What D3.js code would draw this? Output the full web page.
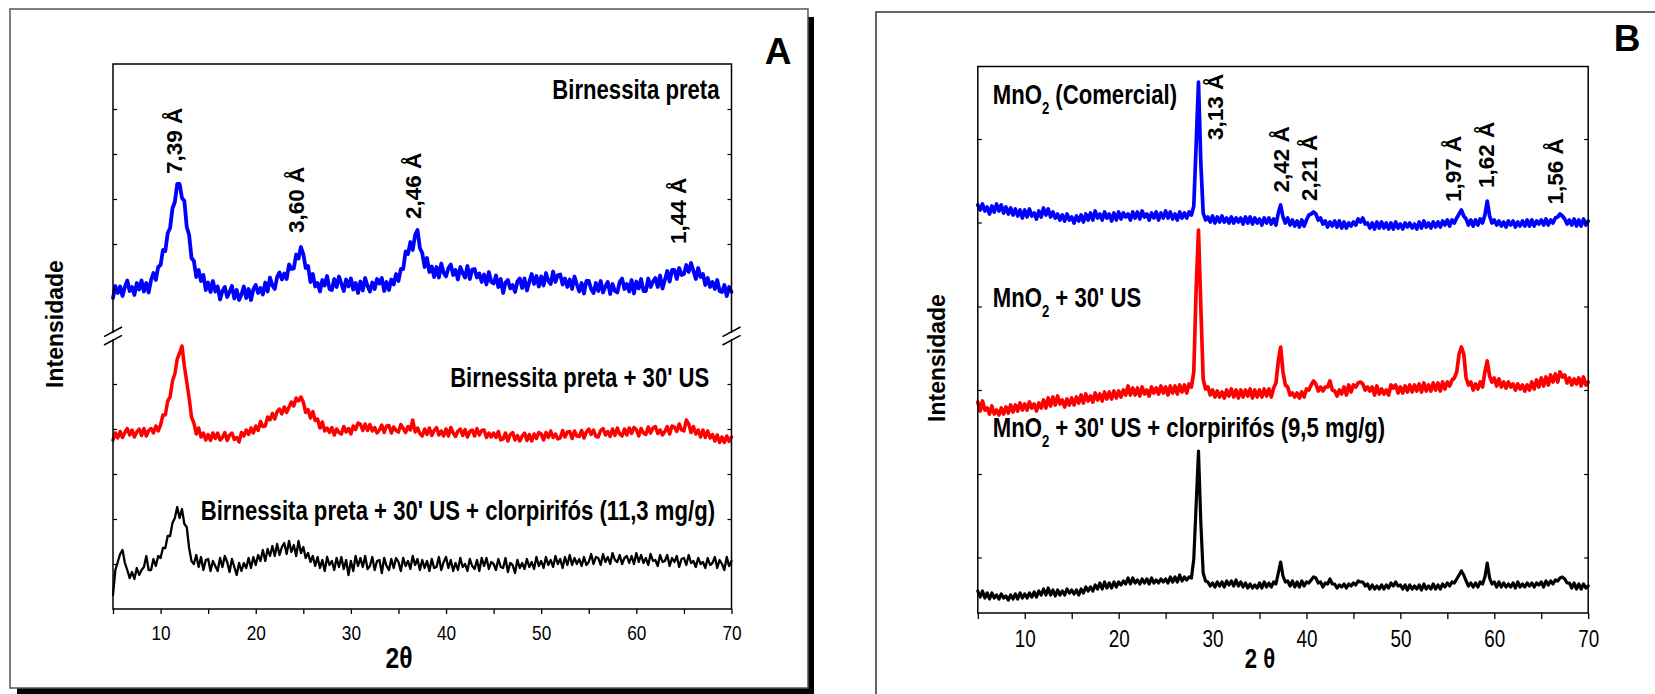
<!DOCTYPE html>
<html>
<head>
<meta charset="utf-8">
<script src="https://cdn.jsdelivr.net/npm/d3@7"></script>
<style>
  html, body { margin: 0; padding: 0; background: #fff; }
  svg { display: block; }
  text { font-family: "Liberation Sans", Arial, sans-serif; fill: #000; }
</style>
</head>
<body>
<svg id="fig" width="1655" height="694"></svg>
<script>
// ---- 2θ sampling grid (degrees) ----
const twoThetaStart = 5, twoThetaStep = 0.25, twoThetaCount = 261;
const twoTheta = d3.range(twoThetaCount).map(i => twoThetaStart + i * twoThetaStep);

const xTicks = [5, 10, 15, 20, 25, 30, 35, 40, 45, 50, 55, 60, 65, 70];
const xTickLabels = ["", "10", "", "20", "", "30", "", "40", "", "50", "", "60", "", "70"];

// ---- Panel A: birnessita patterns (intensity, a.u., offset stacked) ----
const birnessitaPreta = [
  622,646,632,645, 626,644,657,636, 644,628,652,639, 657,635,652,633, 658,672,658,684,
  688,718,716,752, 762,801,814,850, 850,822,816,764, 748,702,696,664, 678,656,668,638,
  653,634,656,635, 645,619,636,644, 624,634,646,621, 638,618,629,645, 622,640,618,639,
  648,632,642,629, 653,635,663,647, 640,664,673,659, 671,660,689,680, 681,709,701,724,
  710,682,686,654, 670,645,652,635, 658,647,666,640, 638,660,644,665, 651,636,659,645,
  661,639,652,632, 655,637,662,646, 635,653,640,660, 651,662,636,654, 638,659,649,670,
  656,680,680,715, 710,734,718,748, 758,722,712,684, 702,674,685,664, 684,663,691,672,
  665,682,689,668, 678,659,684,672, 663,686,660,679, 680,663,671,654, 669,649,674,654,
  651,667,644,660, 632,653,658,641, 648,634,655,661, 642,661,637,654, 670,650,666,645,
  665,647,672,656, 650,675,654,668, 669,649,661,644, 659,640,665,649, 635,652,631,656,
  656,640,632,652, 636,656,633,645, 654,630,650,636, 633,654,661,640, 650,635,658,631,
  655,641,660,636, 636,661,644,655, 662,644,667,641, 658,676,655,678, 678,660,682,668,
  670,688,674,692, 676,660,682,664, 670,648,662,644, 654,640,658,636, 634,648,626,644,
  634
];
const birnessitaUS = [
  338,352,342,355, 343,353,361,348, 358,344,354,360, 347,361,346,357, 361,352,366,356,
  368,388,388,416, 424,456,470,500, 512,526,486,454, 422,384,372,350, 362,344,352,338,
  349,337,352,341, 352,338,343,353, 337,348,352,339, 343,334,353,346, 358,349,362,352,
  366,357,375,365, 366,384,378,391, 380,395,400,390, 404,393,404,414, 406,422,416,424,
  414,393,399,382, 395,377,380,362, 374,356,362,353, 363,348,360,353, 350,365,354,361,
  350,366,359,372, 370,357,370,357, 369,356,363,352, 358,368,353,366, 367,352,364,357,
  354,369,361,353, 365,358,378,354, 362,351,346,360, 349,362,347,357, 363,348,356,346,
  360,346,363,352, 345,356,360,347, 359,344,355,358, 346,361,348,357, 358,343,352,344,
  352,343,355,338, 340,352,336,349, 353,338,347,336, 346,352,337,349, 336,350,341,353,
  350,338,353,343, 356,343,350,340, 342,357,344,354, 355,341,356,346, 345,357,342,354,
  360,349,358,345, 344,357,361,348, 355,345,360,347, 362,350,346,360, 348,362,351,363,
  359,346,361,352, 349,364,352,362, 365,351,358,348, 355,365,350,366, 364,355,370,358,
  356,378,370,353, 365,350,358,344, 358,343,356,342, 349,336,348,333, 344,333,346,335,
  344
];
const birnessitaUSClorpirifos = [
  28,78,94,110, 118,92,78,62, 74,60,82,68, 78,84,106,78, 78,100,86,106,
  102,122,122,146, 146,172,182,204, 182,200,170,164, 122,96,90,108, 84,104,78,98,
  100,76,96,86, 76,102,84,106, 94,74,100,84, 68,92,76,92, 82,102,82,104,
  88,108,96,118, 96,120,106,126, 106,130,108,124, 132,110,136,114, 128,106,136,112,
  124,102,112,94, 106,86,104,82, 98,76,104,88, 96,78,102,84, 104,80,98,68,
  96,76,106,86, 102,84,106,80, 86,104,78,96, 98,72,102,86, 78,100,82,102,
  94,76,102,86, 96,80,106,88, 100,78,98,82, 96,76,100,82, 84,104,78,94,
  104,82,98,76, 92,78,102,84, 90,76,100,86, 80,98,76,102, 86,102,80,94,
  90,78,100,84, 82,102,74,92, 88,72,98,82, 92,80,100,84, 94,80,104,86,
  96,82,104,88, 98,84,106,90, 100,82,104,88, 108,88,102,90, 100,86,104,88,
  94,110,90,104, 102,88,110,94, 104,90,112,98, 94,108,90,102, 106,92,106,90,
  112,94,108,92, 102,88,110,96, 98,86,108,94, 96,108,86,102, 94,106,84,100,
  102,88,108,92, 96,84,102,90, 94,82,102,88, 92,104,82,98, 90,78,104,86,
  96
];

// ---- Panel B: MnO2 patterns (intensity, a.u., offset stacked) ----
const mno2Comercial = [
  816,806,818,804, 812,798,814,802, 818,804,816,800, 812,798,810,796, 808,794,806,790,
  806,792,808,794, 800,788,804,792, 810,796,808,792, 802,790,798,786, 796,784,798,786,
  792,780,794,784, 796,782,798,786, 800,786,804,790, 798,786,802,790, 798,784,800,786,
  802,788,800,792, 798,786,802,790, 802,788,804,792, 798,786,800,790, 802,786,800,790,
  804,790,802,788, 798,786,802,790, 800,790,802,796, 814,936,1062,900, 800,786,792,782,
  794,780,792,782, 794,782,790,780, 792,780,790,782, 790,778,792,780, 792,778,790,780,
  788,776,790,780, 790,778,788,776, 800,816,792,780, 790,776,786,774, 784,772,786,774,
  786,796,798,802, 798,786,790,778, 784,772,782,774, 784,772,784,770, 782,770,780,774,
  782,776,788,782, 790,778,780,770, 780,768,782,770, 782,770,780,768, 780,768,782,770,
  778,768,780,772, 780,770,778,768, 782,770,784,772, 780,770,782,772, 782,772,784,776,
  786,774,786,780, 790,798,806,794, 788,776,786,774, 786,776,788,780, 796,824,794,780,
  786,776,784,774, 782,772,784,776, 784,772,782,774, 784,774,786,774, 786,774,784,778,
  786,776,788,776, 786,780,790,792, 798,794,788,778, 786,776,788,774, 786,774,788,776,
  784
];
const mno2US = [
  422,404,424,406, 410,398,414,398, 406,396,410,398, 412,400,416,402, 416,404,420,406,
  418,406,422,410, 418,404,420,410, 426,410,430,414, 432,416,434,418, 426,412,428,416,
  430,416,432,420, 436,420,438,424, 434,422,440,426, 438,424,442,428, 442,428,444,430,
  444,432,446,436, 454,436,450,436, 450,434,452,438, 446,434,452,440, 450,438,454,440,
  452,436,454,440, 454,438,456,442, 456,440,458,452, 482,648,766,612, 468,448,452,436,
  446,432,444,432, 442,430,446,434, 448,432,446,430, 446,432,446,434, 448,430,446,432,
  446,432,448,434, 448,432,450,460, 504,532,482,456, 452,436,440,432, 440,430,442,432,
  448,446,456,464, 458,444,452,444, 452,452,464,446, 444,434,446,438, 452,436,456,442,
  456,452,460,462, 458,446,452,444, 452,436,454,438, 448,438,446,436, 456,450,456,440,
  452,440,454,442, 456,442,456,444, 458,442,460,444, 456,444,460,446, 460,444,462,448,
  462,454,466,470, 482,518,532,518, 470,456,462,446, 458,448,462,452, 482,504,474,462,
  470,454,468,452, 462,450,462,452, 458,446,458,448, 456,444,456,446, 462,448,466,452,
  470,454,472,456, 476,462,478,462, 482,472,476,460, 470,456,468,458, 470,454,472,456,
  462
];
const mno2USClorpirifos = [
  44,32,44,30, 40,28,40,30, 36,28,38,30, 34,26,36,28, 38,28,40,30,
  38,30,40,32, 42,32,44,36, 48,36,50,36, 46,34,46,36, 44,36,48,40,
  46,38,46,36, 48,40,52,44, 52,44,56,48, 60,48,62,50, 60,50,62,52,
  62,56,64,58, 70,58,70,60, 66,58,68,60, 68,58,70,60, 66,60,68,62,
  68,60,72,62, 72,62,76,64, 72,66,72,70, 108,216,324,180, 80,64,62,54,
  60,52,62,54, 62,52,64,56, 64,54,66,54, 62,52,60,50, 58,50,56,50,
  60,50,62,52, 60,52,62,58, 80,102,74,62, 64,54,64,52, 62,52,64,54,
  62,60,66,72, 70,60,62,52, 60,58,68,58, 58,50,56,52, 58,50,58,54,
  60,56,64,62, 62,54,58,48, 56,48,54,48, 56,48,56,50, 60,54,62,54,
  56,48,56,46, 56,48,54,48, 56,46,58,48, 54,48,58,48, 56,48,58,52,
  60,54,62,60, 68,76,84,76, 64,54,60,52, 60,52,62,58, 72,100,70,58,
  62,52,62,52, 60,52,58,52, 60,50,62,52, 58,52,60,54, 60,52,60,56,
  62,52,64,56, 64,58,66,64, 70,72,68,60, 60,50,60,48, 58,48,58,50,
  54
];

// ---- Annotations ----
const seriesLabelsA = ["Birnessita preta", "Birnessita preta + 30' US", "Birnessita preta + 30' US + clorpirifós (11,3 mg/g)"];
const seriesLabelEndA = [68.74, 67.67, 68.27];     // 2θ where each label ends
const seriesLabelLevelA = [1020, 445, 178];          // baseline level (a.u.)
const peakLabelsA = ["7,39 Å", "3,60 Å", "2,46 Å", "1,44 Å"];
const peakLabelPosA = [12.25, 25.07, 37.37, 65.17];
const peakLabelLevelA = [870, 752, 780, 730];

const seriesLabelsB = [["MnO", "2", " (Comercial)"], ["MnO", "2", " + 30' US"], ["MnO", "2", " + 30' US + clorpirifós (9,5 mg/g)"]];
const seriesLabelStartB = [6.59, 6.59, 6.59];
const seriesLabelLevelB = [1019, 612, 352];
const peakLabelsB = ["3,13 Å", "2,42 Å", "2,21 Å", "1,97 Å", "1,62 Å", "1,56 Å"];
const peakLabelPosB = [31.11, 38.14, 41.12, 56.48, 60.0, 67.32];
const peakLabelLevelB = [946, 841, 824, 822, 850, 817];

// Inner y tick levels (a.u.)
const yTicksA = [90, 180, 270, 360, 450, 640, 730, 820, 910, 1000];
const yBreakA = 546;
const yTicksB = [111, 278, 446, 613, 781, 948];

// condensed type: regular sans squeezed horizontally
const NARROW = 0.82;

const svg = d3.select("#fig");

function narrowText(parent, x, y, size, opts = {}) {
  const g = parent.append("g").attr("transform", `translate(${x},${y}) scale(${NARROW},1)`);
  return g.append("text").attr("x", 0).attr("y", 0)
    .attr("text-anchor", opts.anchor || "start")
    .attr("font-weight", opts.weight || "normal")
    .attr("font-size", size);
}

// ---- Panel frames ----
svg.append("rect").attr("x", 808).attr("y", 17).attr("width", 6).attr("height", 677).attr("fill", "#000");
svg.append("rect").attr("x", 17).attr("y", 688).attr("width", 797).attr("height", 6).attr("fill", "#000");
svg.append("rect").attr("x", 10).attr("y", 9).attr("width", 798).attr("height", 679)
  .attr("fill", "#fff").attr("stroke", "#555").attr("stroke-width", 1.5);
svg.append("rect").attr("x", 876).attr("y", 12).attr("width", 900).attr("height", 800)
  .attr("fill", "#fff").attr("stroke", "#333").attr("stroke-width", 1.5);

function drawPanel(cfg) {
  const x = d3.scaleLinear().domain([5, 70]).range([cfg.left, cfg.right]);
  const y = d3.scaleLinear().domain([0, cfg.yMax]).range([cfg.bottom, cfg.top]);
  const g = svg.append("g");

  // traces
  const line = d3.line().x((d, i) => x(twoTheta[i])).y(d => y(d));
  cfg.series.forEach(s => {
    if (s.values.length !== twoTheta.length) console.error("length mismatch", s.values.length);
    g.append("path").datum(s.values).attr("d", line)
      .attr("fill", "none").attr("stroke", s.color).attr("stroke-width", s.width)
      .attr("stroke-linejoin", "round").attr("stroke-linecap", "round");
  });

  // plot frame
  g.append("rect").attr("x", cfg.left).attr("y", cfg.top)
    .attr("width", cfg.right - cfg.left).attr("height", cfg.bottom - cfg.top)
    .attr("fill", "none").attr("stroke", "#000").attr("stroke-width", 1.5);

  // x axis
  const xa = g.append("g").attr("transform", `translate(0,${cfg.bottom})`)
    .call(d3.axisBottom(x).tickValues(xTicks).tickSize(cfg.tickLen)
      .tickFormat((d, i) => xTickLabels[i]));
  xa.select(".domain").remove();
  xa.selectAll("line").attr("stroke", "#000").attr("stroke-width", 1.3);
  xa.selectAll("text").attr("y", cfg.tickLabelDy).attr("dy", null)
    .attr("transform", `scale(${NARROW},1)`)
    .attr("font-family", "Liberation Sans, Arial, sans-serif")
    .attr("font-size", cfg.tickFont).attr("fill", "#000");

  // inner y ticks on both spines
  const yl = g.append("g").attr("transform", `translate(${cfg.left},0)`)
    .call(d3.axisRight(y).tickValues(cfg.yTicks).tickSize(4).tickFormat(""));
  const yr = g.append("g").attr("transform", `translate(${cfg.right},0)`)
    .call(d3.axisLeft(y).tickValues(cfg.yTicks).tickSize(4).tickFormat(""));
  [yl, yr].forEach(a => { a.select(".domain").remove(); a.selectAll("line").attr("stroke", "#000").attr("stroke-width", 1.2); });

  // axis break marks
  if (cfg.yBreak != null) {
    const yb = y(cfg.yBreak);
    [cfg.left, cfg.right].forEach(xb => {
      g.append("rect").attr("x", xb - 2).attr("y", yb - 3).attr("width", 4).attr("height", 6).attr("fill", "#fff");
      [-4.2, 4.2].forEach(o => {
        g.append("line").attr("x1", xb - 9).attr("y1", yb + 4.8 + o).attr("x2", xb + 9).attr("y2", yb - 4.8 + o)
          .attr("stroke", "#000").attr("stroke-width", 1.5);
      });
    });
  }

  // x axis title
  narrowText(g, x(cfg.xTitlePos), cfg.xTitleY, cfg.xTitleFont, { anchor: "middle", weight: "bold" })
    .text(cfg.xTitle);

  // y axis title
  g.append("text")
    .attr("transform", `translate(${cfg.yTitleX},${cfg.yTitleY}) rotate(-90)`)
    .attr("text-anchor", "middle").attr("font-weight", "bold").attr("font-size", 23)
    .text("Intensidade");

  // peak d-spacing labels
  cfg.peakLabels.forEach((t, i) => {
    g.append("text")
      .attr("transform", `translate(${x(cfg.peakPos[i])},${y(cfg.peakLevel[i])}) rotate(-90)`)
      .attr("font-weight", "bold").attr("font-size", 22.5).text(t);
  });

  return { x, y, g };
}

// ---- Panel A ----
const A = drawPanel({
  left: 113, right: 731.5, top: 64, bottom: 609, yMax: 1090,
  series: [
    { values: birnessitaPreta, color: "#0000ff", width: 3.8 },
    { values: birnessitaUS, color: "#ff0000", width: 3.5 },
    { values: birnessitaUSClorpirifos, color: "#000000", width: 2.3 }
  ],
  tickLen: 5, tickLabelDy: 31, tickFont: 21,
  yTicks: yTicksA, yBreak: yBreakA,
  xTitle: "2θ", xTitlePos: 35.06, xTitleY: 668, xTitleFont: 30,
  yTitleX: 63, yTitleY: 324,
  peakLabels: peakLabelsA, peakPos: peakLabelPosA, peakLevel: peakLabelLevelA
});
seriesLabelsA.forEach((t, i) => {
  narrowText(A.g, A.x(seriesLabelEndA[i]), A.y(seriesLabelLevelA[i]), 27, { anchor: "end", weight: "bold" })
    .text(t);
});
svg.append("text").attr("x", 778).attr("y", 64)
  .attr("text-anchor", "middle").attr("font-weight", "bold").attr("font-size", 37).text("A");

// ---- Panel B ----
const B = drawPanel({
  left: 977.8, right: 1588.2, top: 66.5, bottom: 613, yMax: 1093,
  series: [
    { values: mno2Comercial, color: "#0000ff", width: 3.7 },
    { values: mno2US, color: "#ff0000", width: 3.7 },
    { values: mno2USClorpirifos, color: "#000000", width: 3.2 }
  ],
  tickLen: 6, tickLabelDy: 34, tickFont: 23,
  yTicks: yTicksB, yBreak: null,
  xTitle: "2 θ", xTitlePos: 35.05, xTitleY: 668, xTitleFont: 27,
  yTitleX: 945, yTitleY: 358,
  peakLabels: peakLabelsB, peakPos: peakLabelPosB, peakLevel: peakLabelLevelB
});
seriesLabelsB.forEach((parts, i) => {
  const t = narrowText(B.g, B.x(seriesLabelStartB[i]), B.y(seriesLabelLevelB[i]), 27, { weight: "bold" });
  t.append("tspan").text(parts[0]);
  t.append("tspan").attr("font-size", 16).attr("dy", 10).text(parts[1]);
  t.append("tspan").attr("dy", -10).attr("xml:space", "preserve").text(parts[2]);
});
svg.append("text").attr("x", 1627).attr("y", 51)
  .attr("text-anchor", "middle").attr("font-weight", "bold").attr("font-size", 37).text("B");
</script>
</body>
</html>
